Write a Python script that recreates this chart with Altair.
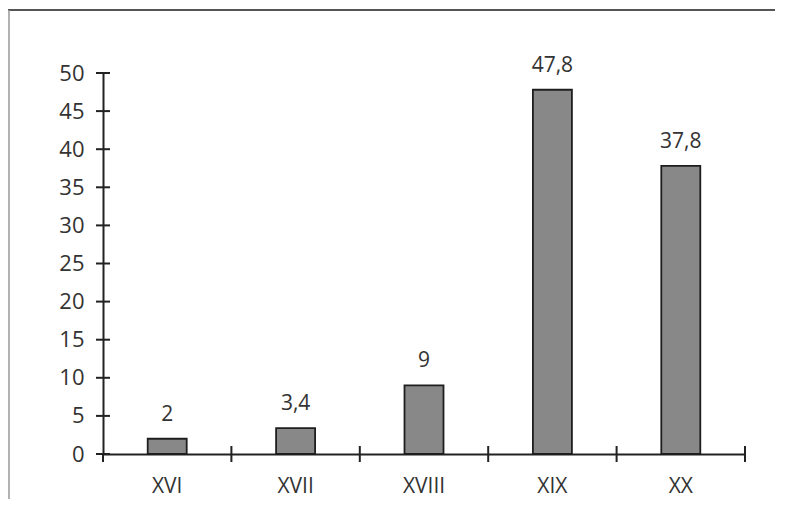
import altair as alt
import pandas as pd

centuries = ["XVI", "XVII", "XVIII", "XIX", "XX"]
values = [2, 3.4, 9, 47.8, 37.8]
labels = ["2", "3,4", "9", "47,8", "37,8"]
y_ticks = [0, 5, 10, 15, 20, 25, 30, 35, 40, 45, 50]

df = pd.DataFrame({"siglo": centuries, "valor": values, "etiqueta": labels})
df_y = pd.DataFrame({"valor": y_ticks})
df_one = pd.DataFrame({"a": [0]})

FONT = "Open Sans"
W, H = 642, 381

x_enc = alt.X("siglo:N", sort=centuries, title=None,
              scale=alt.Scale(paddingInner=0, paddingOuter=0))
y_scale = alt.Scale(domain=[0, 50], nice=False, zero=True)
y_enc = alt.Y("valor:Q", scale=y_scale, title=None)

bars = alt.Chart(df).mark_bar(size=39, fill="#888888", stroke="#1e1e1e", strokeWidth=1.8).encode(
    x=x_enc, y=y_enc)

text = alt.Chart(df).mark_text(font=FONT, fontSize=21, color="#333",
                               baseline="alphabetic", dy=-18).encode(
    x=x_enc, y=y_enc, text="etiqueta:N")

x_ticks = alt.Chart(df).mark_rule(color="#222", strokeWidth=2).encode(
    x=alt.X("siglo:N", sort=centuries, bandPosition=1, title=None,
            scale=alt.Scale(paddingInner=0, paddingOuter=0)),
    y=alt.value(H - 8), y2=alt.value(H + 8))

y_tick_rules = alt.Chart(df_y).mark_rule(color="#222", strokeWidth=2).encode(
    y=y_enc, x=alt.value(-7), x2=alt.value(7))

y_axis_ext = alt.Chart(df_one).mark_rule(color="#222", strokeWidth=2).encode(
    x=alt.value(0), y=alt.value(H), y2=alt.value(H + 8))

frame_top = alt.Chart(df_one).mark_rule(color="#555", strokeWidth=2).encode(
    x=alt.value(-95), x2=alt.value(680), y=alt.value(-63))
frame_left = alt.Chart(df_one).mark_rule(color="#999", strokeWidth=1.5).encode(
    x=alt.value(-94), y=alt.value(-63), y2=alt.value(H + 45))

chart = alt.layer(frame_top, frame_left, bars, text, x_ticks, y_tick_rules, y_axis_ext).properties(
    width=W, height=H,
    background="white",
    padding={"left": 95, "top": 65, "right": 30, "bottom": 45},
    autosize=alt.AutoSizeParams(type="none"),
).configure_view(
    strokeWidth=0
).configure_axis(
    ticks=False, grid=False, domainColor="#222", domainWidth=2,
    labelFont=FONT, labelColor="#333", labelOverlap=False,
).configure_axisX(
    labelAngle=0, labelPadding=21, labelFontSize=21,
).configure_axisY(
    labelPadding=19, labelFontSize=22, tickCount=10,
)

chart.save("out.html", embed_options={"renderer": "svg", "actions": False})
